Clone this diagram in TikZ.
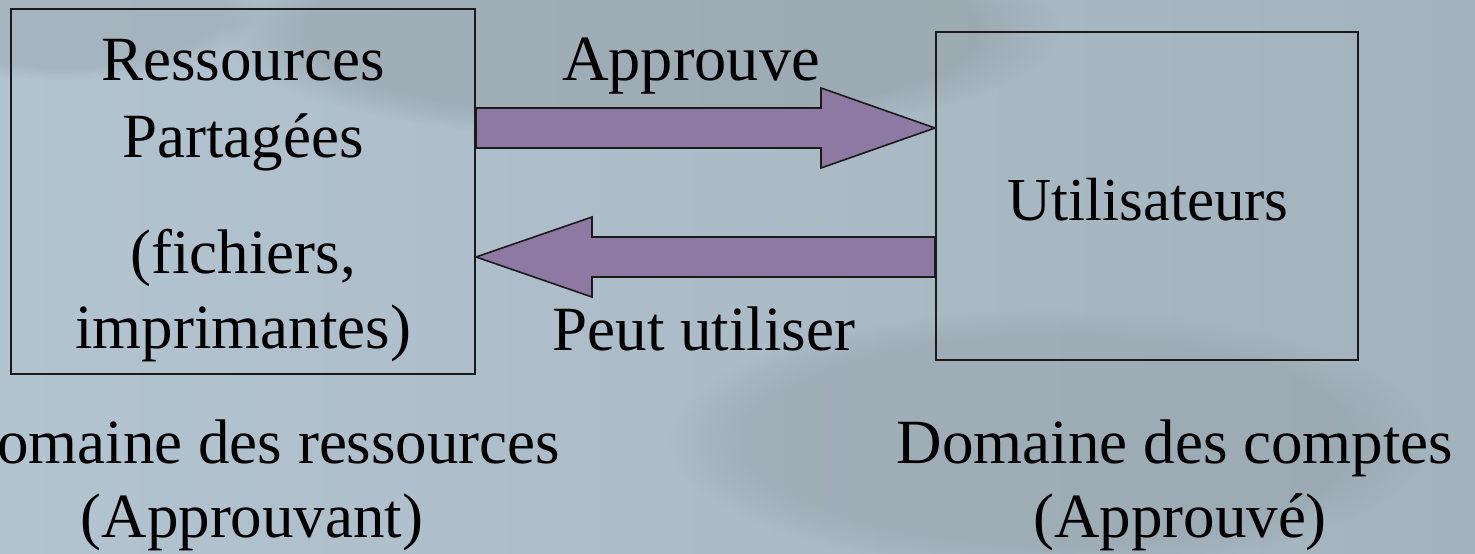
\documentclass[tikz,border=0pt]{standalone}
\usepackage{fontspec}
\setmainfont{Liberation Serif}
\usetikzlibrary{calc,fadings}
\definecolor{bgL}{HTML}{B3C4D1}
\definecolor{bgR}{HTML}{A3B3BD}
\definecolor{bgDark}{HTML}{8D999E}
\definecolor{arrowfill}{HTML}{8E79A3}
\definecolor{edge}{HTML}{1A1A1A}
\begin{document}
\begin{tikzpicture}[x=1pt,y=-1pt,
  lbl/.style={font=\fontsize{63}{72}\selectfont, inner sep=0pt, anchor=base, text=black},
  lblsmall/.style={lbl, font=\fontsize{61}{70}\selectfont},
  boxnode/.style={draw=edge, line width=2pt, inner sep=0pt, fill=none},
  fatarrow/.style={fill=arrowfill, draw=edge, line width=1.6pt, line join=miter}]
\useasboundingbox (0,0) rectangle (1475,554);
% background
\begin{scope}
\clip (0,0) rectangle (1475,554);
\fill[left color=bgL, right color=bgR] (0,0) rectangle (1475,554);
\fill[bgDark, opacity=0.45, path fading=circle with fuzzy edge 20 percent] (640,30) ellipse (420 and 110);
\fill[bgDark, opacity=0.35, path fading=circle with fuzzy edge 20 percent] (1050,440) ellipse (380 and 130);
\fill[bgDark, opacity=0.35, path fading=circle with fuzzy edge 20 percent] (60,10) ellipse (200 and 70);
\end{scope}
% boxes
\node[boxnode, minimum width=464pt, minimum height=365pt] (res) at (243,191.5) {};
\node[boxnode, minimum width=422pt, minimum height=328pt] (usr) at (1147,196) {};
% arrow anchor coordinates
\coordinate (a1s) at ($(res.east)+(0,-63.5)$);
\coordinate (a1e) at ($(usr.west)+(0,-68)$);
\coordinate (a2e) at ($(res.east)+(0,65.5)$);
\coordinate (a2s) at ($(usr.west)+(0,61)$);
% Approuve arrow
\draw[fatarrow] ($(a1s)+(0,-20)$) -- ($(a1e)+(-114,-20)$) -- ($(a1e)+(-114,-40)$) -- (a1e)
  -- ($(a1e)+(-114,40)$) -- ($(a1e)+(-114,20)$) -- ($(a1s)+(0,20)$) -- cycle;
% Peut utiliser arrow
\draw[fatarrow] ($(a2s)+(0,-20)$) -- ($(a2e)+(116,-20)$) -- ($(a2e)+(116,-40)$) -- (a2e)
  -- ($(a2e)+(116,40)$) -- ($(a2e)+(116,20)$) -- ($(a2s)+(0,20)$) -- cycle;
% texts
\node[lbl] (t1) at (243,80) {Ressources};
\node[lbl] (t2) at (243,157) {Partagées};
\node[lbl] (t3) at (243,273) {(fichiers,};
\node[lbl] (t4) at (243,348) {imprimantes)};
\node[lbl, font=\fontsize{64.5}{72}\selectfont] (lab1) at (691,80) {Approuve};
\node[lbl] (lab2) at (704,350) {Peut utiliser};
\node[lblsmall] (t5) at (1148,220) {Utilisateurs};
\node[lbl] (d1) at (256,463) {Domaine des ressources};
\node[lbl] (d2) at (252,537) {(Approuvant)};
\node[lbl] (d3) at (1175,463) {Domaine des comptes};
\node[lbl] (d4) at (1180,537) {(Approuvé)};
\end{tikzpicture}
\end{document}
